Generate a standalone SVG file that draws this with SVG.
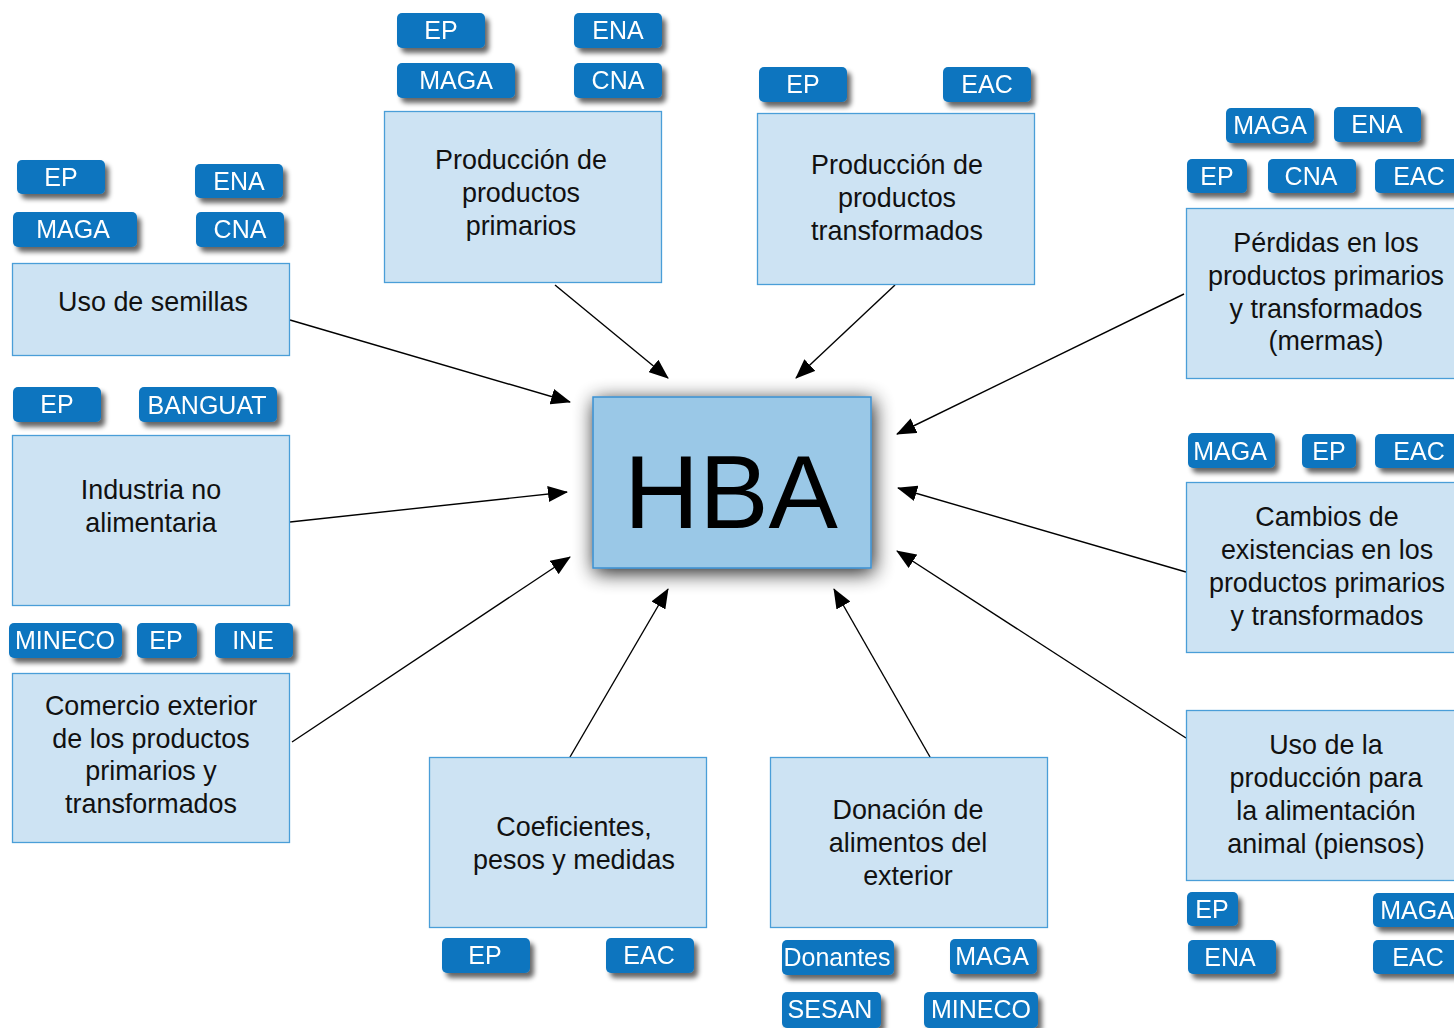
<svg xmlns="http://www.w3.org/2000/svg" width="1454" height="1028" viewBox="0 0 1454 1028">
<defs>
<style>
.box{fill:#cde3f3;stroke:#4a9ed8;stroke-width:1.3}
.bt{font-family:"Liberation Sans",Arial,sans-serif;font-size:26.9px;fill:#111;text-anchor:middle}
.tag rect{fill:#0a75bf}
.tag text{font-family:"Liberation Sans",Arial,sans-serif;font-size:25px;fill:#fff;text-anchor:middle}
.tag{filter:url(#tsh)}
.cn{stroke:#000;stroke-width:1.4;fill:none;marker-end:url(#ah)}
</style>
<filter id="tsh" x="-20%" y="-30%" width="150%" height="180%">
<feGaussianBlur in="SourceAlpha" stdDeviation="2.5"/>
<feOffset dx="4" dy="5" result="b"/>
<feComponentTransfer><feFuncA type="linear" slope="0.6"/></feComponentTransfer>
<feMerge><feMergeNode/><feMergeNode in="SourceGraphic"/></feMerge>
</filter>
<filter id="hsh" x="-30%" y="-40%" width="160%" height="180%">
<feGaussianBlur in="SourceAlpha" stdDeviation="10"/>
<feOffset dx="2" dy="4" result="b"/>
<feComponentTransfer><feFuncA type="linear" slope="0.9"/></feComponentTransfer>
<feMerge><feMergeNode/><feMergeNode in="SourceGraphic"/></feMerge>
</filter>
<marker id="ah" markerWidth="20" markerHeight="16" refX="19" refY="8" orient="auto" markerUnits="userSpaceOnUse">
<path d="M0,0 L20,8 L0,16 Z" fill="#000"/>
</marker>
</defs>
<rect width="1454" height="1028" fill="#fff"/>

<g id="connectors">
<line class="cn" x1="290" y1="320" x2="570" y2="402"/>
<line class="cn" x1="555" y1="285" x2="668" y2="378"/>
<line class="cn" x1="895" y1="285" x2="796" y2="378"/>
<line class="cn" x1="1184" y1="294" x2="897" y2="434"/>
<line class="cn" x1="290" y1="522" x2="567" y2="492"/>
<line class="cn" x1="1186" y1="572" x2="898" y2="488"/>
<line class="cn" x1="292" y1="742" x2="570" y2="557"/>
<line class="cn" x1="1186" y1="738" x2="897" y2="551"/>
<line class="cn" x1="570" y1="757" x2="668" y2="589"/>
<line class="cn" x1="930" y1="757" x2="834" y2="589"/>
</g>

<g id="hba">
<rect x="593" y="397" width="278" height="171" fill="#9ac8e7" stroke="#3a8fd0" stroke-width="1.5" filter="url(#hsh)"/>
<text x="731" y="528" font-family="'Liberation Sans',Arial,sans-serif" font-size="104" text-anchor="middle" fill="#000">HBA</text>
</g>

<g id="n-primarios">
<rect class="box" x="384.5" y="111.5" width="277" height="171"/>
<text class="bt" x="521" y="169">Producción de</text>
<text class="bt" x="521" y="202">productos</text>
<text class="bt" x="521" y="235">primarios</text>
<g class="tag"><rect x="397" y="13" width="88" height="35" rx="5"/><text x="441" y="39">EP</text></g>
<g class="tag"><rect x="574" y="13" width="88" height="35" rx="5"/><text x="618" y="39">ENA</text></g>
<g class="tag"><rect x="397" y="63" width="118" height="35" rx="5"/><text x="456" y="89">MAGA</text></g>
<g class="tag"><rect x="574" y="63" width="88" height="35" rx="5"/><text x="618" y="89">CNA</text></g>
</g>

<g id="n-transformados">
<rect class="box" x="757.5" y="113.5" width="277" height="171"/>
<text class="bt" x="897" y="174">Producción de</text>
<text class="bt" x="897" y="207">productos</text>
<text class="bt" x="897" y="240">transformados</text>
<g class="tag"><rect x="759" y="67" width="88" height="35" rx="5"/><text x="803" y="93">EP</text></g>
<g class="tag"><rect x="943" y="67" width="88" height="35" rx="5"/><text x="987" y="93">EAC</text></g>
</g>

<g id="n-semillas">
<rect class="box" x="12.5" y="263.5" width="277" height="92"/>
<text class="bt" x="153" y="311">Uso de semillas</text>
<g class="tag"><rect x="17" y="160" width="88" height="34" rx="5"/><text x="61" y="186">EP</text></g>
<g class="tag"><rect x="195" y="164" width="88" height="34" rx="5"/><text x="239" y="190">ENA</text></g>
<g class="tag"><rect x="13" y="212" width="124" height="35" rx="5"/><text x="73" y="238">MAGA</text></g>
<g class="tag"><rect x="196" y="212" width="88" height="35" rx="5"/><text x="240" y="238">CNA</text></g>
</g>

<g id="n-industria">
<rect class="box" x="12.5" y="435.5" width="277" height="170"/>
<text class="bt" x="151" y="499">Industria no</text>
<text class="bt" x="151" y="532">alimentaria</text>
<g class="tag"><rect x="13" y="387" width="88" height="35" rx="5"/><text x="57" y="413">EP</text></g>
<g class="tag"><rect x="139" y="387" width="138" height="35" rx="5"/><text x="207" y="414">BANGUAT</text></g>
</g>

<g id="n-comercio">
<rect class="box" x="12.5" y="673.5" width="277" height="169"/>
<text class="bt" x="151" y="715">Comercio exterior</text>
<text class="bt" x="151" y="748">de los productos</text>
<text class="bt" x="151" y="780">primarios y</text>
<text class="bt" x="151" y="813">transformados</text>
<g class="tag"><rect x="9" y="623" width="113" height="35" rx="5"/><text x="65" y="649">MINECO</text></g>
<g class="tag"><rect x="137" y="623" width="60" height="35" rx="5"/><text x="166" y="649">EP</text></g>
<g class="tag"><rect x="215" y="623" width="78" height="35" rx="5"/><text x="253" y="649">INE</text></g>
</g>

<g id="n-coeficientes">
<rect class="box" x="429.5" y="757.5" width="277" height="170"/>
<text class="bt" x="574" y="836">Coeficientes,</text>
<text class="bt" x="574" y="869">pesos y medidas</text>
<g class="tag"><rect x="442" y="938" width="88" height="35" rx="5"/><text x="485" y="964">EP</text></g>
<g class="tag"><rect x="606" y="938" width="88" height="35" rx="5"/><text x="649" y="964">EAC</text></g>
</g>

<g id="n-donacion">
<rect class="box" x="770.5" y="757.5" width="277" height="170"/>
<text class="bt" x="908" y="819">Donación de</text>
<text class="bt" x="908" y="852">alimentos del</text>
<text class="bt" x="908" y="885">exterior</text>
<g class="tag"><rect x="782" y="940" width="112" height="35" rx="5"/><text x="837" y="966">Donantes</text></g>
<g class="tag"><rect x="950" y="939" width="87" height="35" rx="5"/><text x="992" y="965">MAGA</text></g>
<g class="tag"><rect x="782" y="992" width="99" height="36" rx="5"/><text x="830" y="1018">SESAN</text></g>
<g class="tag"><rect x="924" y="992" width="114" height="36" rx="5"/><text x="981" y="1018">MINECO</text></g>
</g>

<g id="n-perdidas">
<rect class="box" x="1186.5" y="208.5" width="280" height="170"/>
<text class="bt" x="1326" y="252">Pérdidas en los</text>
<text class="bt" x="1326" y="285">productos primarios</text>
<text class="bt" x="1326" y="318">y transformados</text>
<text class="bt" x="1326" y="350">(mermas)</text>
<g class="tag"><rect x="1226" y="108" width="88" height="35" rx="5"/><text x="1270" y="134">MAGA</text></g>
<g class="tag"><rect x="1334" y="107" width="87" height="35" rx="5"/><text x="1377" y="133">ENA</text></g>
<g class="tag"><rect x="1187" y="159" width="60" height="34" rx="5"/><text x="1217" y="185">EP</text></g>
<g class="tag"><rect x="1268" y="159" width="88" height="34" rx="5"/><text x="1311" y="185">CNA</text></g>
<g class="tag"><rect x="1375" y="159" width="90" height="34" rx="5"/><text x="1419" y="185">EAC</text></g>
</g>

<g id="n-cambios">
<rect class="box" x="1186.5" y="482.5" width="280" height="170"/>
<text class="bt" x="1327" y="526">Cambios de</text>
<text class="bt" x="1327" y="559">existencias en los</text>
<text class="bt" x="1327" y="592">productos primarios</text>
<text class="bt" x="1327" y="625">y transformados</text>
<g class="tag"><rect x="1188" y="433" width="87" height="35" rx="5"/><text x="1230" y="460">MAGA</text></g>
<g class="tag"><rect x="1302" y="434" width="54" height="34" rx="5"/><text x="1329" y="460">EP</text></g>
<g class="tag"><rect x="1375" y="434" width="90" height="34" rx="5"/><text x="1419" y="460">EAC</text></g>
</g>

<g id="n-piensos">
<rect class="box" x="1186.5" y="710.5" width="280" height="170"/>
<text class="bt" x="1326" y="754">Uso de la</text>
<text class="bt" x="1326" y="787">producción para</text>
<text class="bt" x="1326" y="820">la alimentación</text>
<text class="bt" x="1326" y="853">animal (piensos)</text>
<g class="tag"><rect x="1187" y="892" width="51" height="34" rx="5"/><text x="1212" y="918">EP</text></g>
<g class="tag"><rect x="1373" y="893" width="90" height="34" rx="5"/><text x="1417" y="919">MAGA</text></g>
<g class="tag"><rect x="1188" y="940" width="88" height="34" rx="5"/><text x="1230" y="966">ENA</text></g>
<g class="tag"><rect x="1373" y="940" width="90" height="34" rx="5"/><text x="1418" y="966">EAC</text></g>
</g>
</svg>
